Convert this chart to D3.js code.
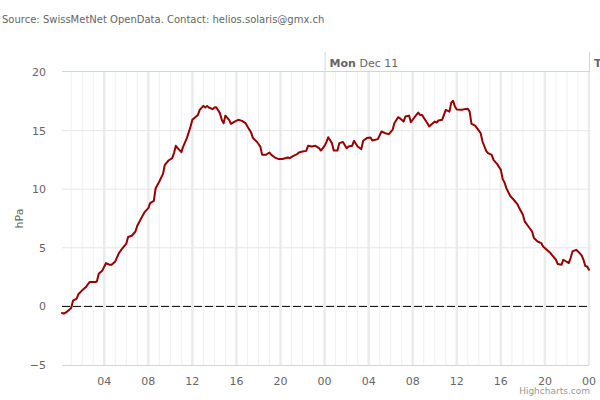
<!DOCTYPE html>
<html><head><meta charset="utf-8">
<script src="https://cdn.jsdelivr.net/npm/d3@7"></script>
<style>
body{margin:0;background:#fff}
text{font-family:"DejaVu Sans",sans-serif}
</style>
</head><body>
<svg id="chart" width="600" height="400"></svg>
<script>
// minutes after 2017-12-10 00:00 (UTC-like local time)
const minutes = [10,20,40,60,70,90,100,120,140,160,190,200,210,230,250,270,280,300,320,340,360,370,390,410,420,440,460,480,490,510,520,540,560,570,590,610,620,630,640,660,670,690,710,720,750,760,780,790,800,810,830,840,850,870,880,890,900,920,930,950,970,990,1010,1020,1040,1050,1070,1090,1100,1120,1140,1150,1170,1190,1210,1240,1250,1270,1290,1300,1320,1340,1350,1370,1390,1410,1420,1440,1450,1460,1480,1490,1510,1520,1540,1560,1570,1590,1600,1620,1640,1650,1670,1690,1700,1730,1750,1770,1790,1810,1820,1840,1850,1870,1880,1900,1910,1930,1950,1960,1970,1990,2000,2010,2020,2040,2050,2060,2080,2090,2100,2120,2130,2140,2150,2160,2190,2200,2220,2230,2240,2260,2270,2290,2300,2320,2330,2350,2360,2380,2400,2410,2420,2430,2450,2470,2490,2500,2520,2530,2550,2570,2580,2600,2620,2630,2650,2670,2680,2700,2710,2730,2740,2760,2770,2780,2790,2810,2820,2840,2850,2860,2870,2880];
const pressure = [-0.56,-0.62,-0.42,-0.14,0.49,0.66,1.06,1.37,1.65,2.08,2.08,2.13,2.79,3.07,3.70,3.55,3.55,3.84,4.55,4.98,5.35,5.92,6.03,6.39,6.88,7.48,8.05,8.39,8.81,9.01,10.09,10.66,11.31,12.08,12.45,12.65,13.08,13.70,13.50,13.16,13.64,14.36,15.35,15.92,16.34,16.77,17.11,16.97,17.11,16.97,16.83,16.97,17.00,16.49,15.92,15.63,16.28,15.92,15.58,15.77,15.92,15.83,15.63,15.35,14.83,14.36,14.07,13.64,12.93,12.93,13.13,12.93,12.70,12.57,12.57,12.70,12.65,12.85,12.99,13.13,13.21,13.27,13.70,13.64,13.70,13.50,13.30,13.70,14.02,14.44,13.93,13.30,13.30,13.93,14.02,13.50,13.64,13.70,14.13,13.64,13.42,14.13,14.36,14.41,14.15,14.27,14.92,14.78,14.70,15.06,15.63,16.14,16.06,15.77,16.20,16.28,15.72,16.14,16.54,16.34,16.34,15.86,15.63,15.35,15.49,15.77,15.69,15.86,15.92,16.34,16.77,16.62,17.39,17.54,17.05,16.80,16.77,16.83,16.86,16.62,15.58,15.43,15.21,14.78,14.07,13.27,13.08,12.93,12.51,12.14,11.65,10.86,10.57,10.09,9.44,9.10,8.73,8.39,7.82,7.25,6.82,6.39,5.83,5.54,5.40,5.12,4.83,4.55,4.35,3.98,3.61,3.55,3.98,3.79,3.70,4.13,4.69,4.83,4.69,4.35,3.98,3.45,3.40,3.13];
const yTicks = [-5, 0, 5, 10, 15, 20];
const titleText = "Source: SwissMetNet OpenData. Contact: helios.solaris@gmx.ch";
const yTitle = "hPa";
const creditText = "Highcharts.com";
const startDay = Date.UTC(2017, 11, 10);

const data = minutes.map((m, i) => ({t: new Date(startDay + m * 60000), v: pressure[i]}));

const svg = d3.select("#chart");
const pl = 62, pr = 589, pt = 72, pb = 365;

const x = d3.scaleUtc().domain(d3.extent(data, d => d.t)).range([pl, pr]);
const y = d3.scaleLinear().domain([-5, 20]).range([pb, pt]);

// title
svg.append("text").attr("x", 2).attr("y", 23).attr("fill", "#666")
  .style("font-size", "10px").text(titleText);

// minor vertical grid (hourly)
const [d0, d1] = x.domain();
svg.append("g").selectAll("line").data(d3.utcHour.range(d0, d1)).join("line")
  .attr("x1", d => x(d)).attr("x2", d => x(d)).attr("y1", pt).attr("y2", pb)
  .attr("stroke", "#f0f0f0").attr("stroke-width", 1);

// major vertical grid (4h)
const majors = d3.utcHour.every(4).range(d0, new Date(+d1 + 1));
svg.append("g").selectAll("line").data(majors).join("line")
  .attr("x1", d => x(d)).attr("x2", d => x(d)).attr("y1", pt).attr("y2", pb)
  .attr("stroke", "#ebebeb").attr("stroke-width", 2.5);

// horizontal grid
svg.append("g").selectAll("line").data(yTicks.filter(v => v > -5 && v < 20)).join("line")
  .attr("x1", pl).attr("x2", pr).attr("y1", d => y(d)).attr("y2", d => y(d))
  .attr("stroke", "#e6e6e6").attr("stroke-width", 1);

// axis lines
svg.append("line").attr("x1", pl).attr("x2", pr).attr("y1", pb + 0.5).attr("y2", pb + 0.5)
  .attr("stroke", "#ccd6eb");
svg.append("line").attr("x1", pl).attr("x2", pr).attr("y1", pt - 0.5).attr("y2", pt - 0.5)
  .attr("stroke", "#ccd6eb");

// y labels
svg.append("g").selectAll("text").data(yTicks).join("text")
  .attr("x", 46).attr("y", d => y(d) + 4).attr("text-anchor", "end")
  .attr("fill", "#666").style("font-size", "11px")
  .text(d => d < 0 ? "\u2212" + Math.abs(d) : d);

// y title
svg.append("text").attr("transform", `translate(23,${(pt + pb) / 2}) rotate(-90)`)
  .attr("text-anchor", "middle").attr("fill", "#666").style("font-size", "11px").text(yTitle);

// x labels
const fmtH = d3.utcFormat("%H");
svg.append("g").selectAll("text").data(majors.filter(d => x(d) > pl + 5)).join("text")
  .attr("x", d => x(d)).attr("y", 385).attr("text-anchor", "middle")
  .attr("fill", "#666").style("font-size", "11px").text(d => fmtH(d));

// day ticks on top axis
const days = d3.utcDay.range(new Date(+d0 + 1), new Date(+d1 + 1));
svg.append("g").selectAll("line").data(days).join("line")
  .attr("x1", d => x(d) + 0.5).attr("x2", d => x(d) + 0.5).attr("y1", 52).attr("y2", pt)
  .attr("stroke", "#ccd6eb");
const fmtDow = d3.utcFormat("%a"), fmtDate = d3.utcFormat("%b %-d");
const dl = svg.append("g").selectAll("text").data(days).join("text")
  .attr("x", d => x(d) + 5).attr("y", 67).attr("fill", "#666").style("font-size", "11px");
dl.append("tspan").style("font-weight", "bold").text(d => fmtDow(d));
dl.append("tspan").text(d => " " + fmtDate(d));

// zero dashed line
svg.append("line").attr("x1", pl).attr("x2", pr).attr("y1", y(0)).attr("y2", y(0))
  .attr("stroke", "#000").attr("stroke-width", 1).attr("stroke-dasharray", "8,3");

// series
svg.append("path").datum(data)
  .attr("d", d3.line().x(d => x(d.t)).y(d => y(d.v)))
  .attr("fill", "none").attr("stroke", "#990000").attr("stroke-width", 2)
  .attr("stroke-linejoin", "round").attr("stroke-linecap", "round");

// credits
svg.append("text").attr("x", 590).attr("y", 394).attr("text-anchor", "end")
  .attr("fill", "#999").style("font-size", "9px").text(creditText);
</script>
</body></html>
